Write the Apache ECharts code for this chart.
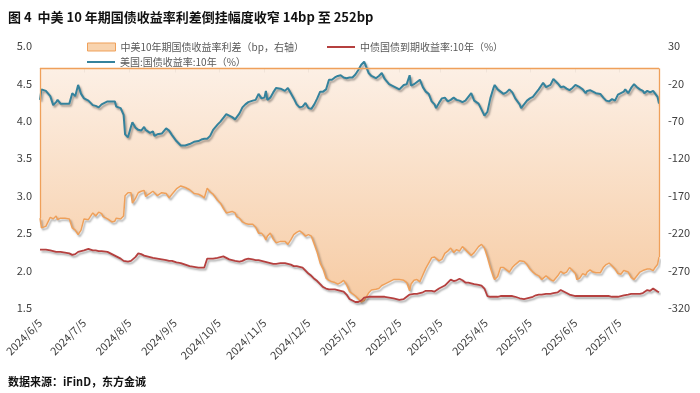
<!DOCTYPE html>
<html>
<head>
<meta charset="utf-8">
<script src="https://cdn.jsdelivr.net/npm/echarts@6/dist/echarts.min.js"></script>
<style>
html,body{margin:0;padding:0;background:#fff;}
#chart{width:700px;height:393px;}
</style>
</head>
<body>
<div id="chart"></div>
<script>
// ---- data ----
const titleText = '图 4  中美 10 年期国债收益率利差倒挂幅度收窄 14bp 至 252bp';
const sourceText = '数据来源：iFinD，东方金诚';
const spreadName = '中美10年期国债收益率利差（bp，右轴）';
const cnName = '中债国债到期收益率:10年（%）';
const usName = '美国:国债收益率:10年（%）';

const dates = [
'2024-06-05','2024-06-06','2024-06-09','2024-06-12','2024-06-14','2024-06-16','2024-06-17','2024-06-19','2024-06-22','2024-06-25',
'2024-06-27','2024-06-29','2024-07-01','2024-07-03','2024-07-05','2024-07-08','2024-07-11','2024-07-13','2024-07-15','2024-07-17',
'2024-07-18','2024-07-21','2024-07-24','2024-07-26','2024-07-27','2024-07-30','2024-08-01','2024-08-02','2024-08-04','2024-08-06',
'2024-08-07','2024-08-09','2024-08-11','2024-08-13','2024-08-15','2024-08-16','2024-08-19','2024-08-21','2024-08-22','2024-08-24',
'2024-08-27','2024-08-30','2024-09-01','2024-09-03','2024-09-06','2024-09-09','2024-09-10','2024-09-12','2024-09-15','2024-09-18',
'2024-09-21','2024-09-23','2024-09-25','2024-09-27','2024-09-29','2024-10-01','2024-10-04','2024-10-06','2024-10-08','2024-10-10',
'2024-10-12','2024-10-14','2024-10-16','2024-10-17','2024-10-19','2024-10-21','2024-10-23','2024-10-25','2024-10-28','2024-10-30',
'2024-11-01','2024-11-03','2024-11-05','2024-11-06','2024-11-07','2024-11-09','2024-11-11','2024-11-13','2024-11-16','2024-11-19',
'2024-11-21','2024-11-23','2024-11-25','2024-11-27','2024-11-29','2024-12-01','2024-12-03','2024-12-05','2024-12-07','2024-12-09',
'2024-12-11','2024-12-13','2024-12-15','2024-12-17','2024-12-19','2024-12-21','2024-12-23','2024-12-25','2024-12-27','2024-12-29',
'2024-12-31','2025-01-02','2025-01-04','2025-01-06','2025-01-08','2025-01-10','2025-01-12','2025-01-13','2025-01-15','2025-01-17',
'2025-01-20','2025-01-22','2025-01-24','2025-01-26','2025-01-29','2025-02-01','2025-02-03','2025-02-05','2025-02-08','2025-02-10',
'2025-02-12','2025-02-13','2025-02-15','2025-02-17','2025-02-19','2025-02-21','2025-02-23','2025-02-25','2025-02-27','2025-03-01',
'2025-03-02','2025-03-04','2025-03-06','2025-03-08','2025-03-10','2025-03-12','2025-03-14','2025-03-16','2025-03-18','2025-03-20',
'2025-03-22','2025-03-24','2025-03-26','2025-03-27','2025-03-28','2025-03-31','2025-04-02','2025-04-04','2025-04-06','2025-04-08',
'2025-04-10','2025-04-11','2025-04-13','2025-04-15','2025-04-17','2025-04-19','2025-04-21','2025-04-23','2025-04-25','2025-04-28',
'2025-04-29','2025-05-01','2025-05-03','2025-05-05','2025-05-07','2025-05-09','2025-05-11','2025-05-13','2025-05-14','2025-05-16',
'2025-05-19','2025-05-21','2025-05-22','2025-05-24','2025-05-26','2025-05-28','2025-05-30','2025-06-01','2025-06-03','2025-06-05',
'2025-06-06','2025-06-08','2025-06-10','2025-06-12','2025-06-13','2025-06-15','2025-06-17','2025-06-19','2025-06-22','2025-06-24',
'2025-06-26','2025-06-28','2025-06-30','2025-07-02','2025-07-04','2025-07-06','2025-07-08','2025-07-09','2025-07-11','2025-07-13',
'2025-07-15','2025-07-17','2025-07-19','2025-07-21','2025-07-22','2025-07-24','2025-07-26','2025-07-28','2025-07-29','2025-07-31',
'2025-08-01'
];

const usYield = [
4.28,4.42,4.40,4.33,4.21,4.25,4.28,4.23,4.23,4.23,
4.37,4.33,4.48,4.36,4.30,4.27,4.21,4.20,4.18,4.22,
4.24,4.26,4.26,4.26,4.19,4.17,4.08,3.82,3.78,3.92,
3.98,3.91,3.88,3.87,3.92,3.88,3.84,3.86,3.80,3.82,
3.83,3.90,3.87,3.81,3.73,3.67,3.65,3.67,3.69,3.72,
3.73,3.75,3.76,3.76,3.80,3.88,3.95,3.99,4.04,4.09,
4.07,4.05,4.02,4.04,4.10,4.18,4.22,4.25,4.27,4.28,
4.36,4.30,4.31,4.40,4.28,4.31,4.38,4.44,4.43,4.40,
4.44,4.37,4.30,4.22,4.18,4.19,4.24,4.17,4.16,4.22,
4.30,4.39,4.39,4.42,4.55,4.55,4.58,4.60,4.61,4.58,
4.57,4.58,4.58,4.62,4.68,4.75,4.79,4.78,4.64,4.60,
4.57,4.60,4.64,4.56,4.49,4.46,4.44,4.42,4.48,4.49,
4.61,4.47,4.49,4.52,4.55,4.45,4.39,4.36,4.26,4.22,
4.17,4.24,4.30,4.31,4.26,4.28,4.31,4.28,4.27,4.25,
4.27,4.32,4.37,4.38,4.27,4.23,4.15,4.07,4.12,4.30,
4.43,4.48,4.42,4.39,4.36,4.38,4.42,4.38,4.30,4.22,
4.17,4.22,4.27,4.30,4.32,4.37,4.42,4.48,4.51,4.45,
4.48,4.56,4.57,4.50,4.45,4.46,4.43,4.41,4.44,4.48,
4.50,4.45,4.42,4.37,4.40,4.41,4.39,4.37,4.36,4.31,
4.27,4.26,4.29,4.27,4.35,4.37,4.39,4.42,4.37,4.44,
4.49,4.45,4.42,4.40,4.37,4.40,4.38,4.40,4.39,4.32,
4.23
];

const cnYield = [
2.28,2.28,2.28,2.27,2.26,2.25,2.25,2.25,2.24,2.23,
2.21,2.22,2.25,2.26,2.27,2.29,2.27,2.27,2.26,2.26,
2.26,2.25,2.22,2.20,2.19,2.16,2.13,2.12,2.12,2.13,
2.14,2.18,2.23,2.22,2.20,2.19,2.18,2.17,2.17,2.16,
2.15,2.14,2.13,2.13,2.11,2.10,2.09,2.08,2.06,2.05,
2.04,2.04,2.04,2.16,2.16,2.16,2.17,2.18,2.19,2.17,
2.15,2.14,2.13,2.13,2.12,2.13,2.15,2.16,2.15,2.14,
2.14,2.13,2.12,2.11,2.11,2.10,2.09,2.09,2.10,2.10,
2.09,2.08,2.06,2.06,2.05,2.04,2.00,1.96,1.93,1.89,
1.86,1.82,1.78,1.76,1.75,1.75,1.75,1.74,1.73,1.72,
1.68,1.62,1.60,1.58,1.58,1.60,1.64,1.65,1.65,1.65,
1.65,1.65,1.65,1.65,1.64,1.63,1.62,1.61,1.62,1.65,
1.68,1.68,1.69,1.69,1.70,1.71,1.73,1.73,1.73,1.72,
1.72,1.76,1.78,1.80,1.84,1.88,1.86,1.87,1.89,1.87,
1.84,1.84,1.83,1.83,1.82,1.81,1.80,1.76,1.66,1.65,
1.65,1.65,1.65,1.66,1.66,1.66,1.66,1.66,1.65,1.63,
1.62,1.62,1.63,1.64,1.65,1.67,1.68,1.68,1.68,1.69,
1.69,1.70,1.70,1.71,1.74,1.72,1.70,1.68,1.67,1.66,
1.66,1.66,1.66,1.66,1.66,1.66,1.66,1.66,1.66,1.66,
1.66,1.66,1.65,1.65,1.65,1.66,1.67,1.68,1.68,1.69,
1.69,1.69,1.69,1.70,1.72,1.74,1.73,1.76,1.74,1.72,
1.71
];

const spreadBp = [
-200,-213,-211,-199,-201,-197,-202,-200,-200,-201,
-213,-216,-222,-216,-201,-202,-193,-197,-192,-194,
-198,-201,-205,-204,-200,-201,-197,-170,-166,-166,
-180,-174,-166,-164,-163,-171,-167,-164,-163,-170,
-166,-167,-173,-168,-161,-157,-155,-159,-162,-167,
-168,-170,-173,-160,-165,-168,-176,-180,-187,-193,
-192,-191,-193,-198,-200,-205,-207,-208,-208,-212,
-220,-220,-225,-229,-224,-220,-228,-233,-231,-231,
-235,-229,-222,-219,-217,-220,-224,-222,-224,-235,
-246,-260,-268,-280,-283,-285,-286,-288,-286,-283,
-289,-298,-301,-304,-308,-312,-310,-308,-300,-296,
-295,-294,-290,-288,-285,-282,-282,-282,-283,-286,
-297,-288,-283,-282,-285,-276,-267,-260,-253,-252,
-251,-257,-255,-247,-244,-240,-246,-242,-244,-238,
-242,-246,-250,-251,-246,-238,-235,-240,-252,-266,
-278,-282,-278,-266,-266,-269,-272,-266,-262,-257,
-255,-258,-262,-268,-272,-275,-277,-282,-284,-277,
-282,-284,-282,-277,-271,-274,-272,-266,-270,-274,
-282,-280,-274,-276,-272,-269,-272,-273,-273,-266,
-262,-260,-264,-268,-274,-275,-270,-268,-272,-279,
-282,-277,-272,-270,-268,-268,-268,-270,-267,-262,
-252
];

const xTickDates = ['2024-06-05','2024-07-05','2024-08-05','2024-09-05','2024-10-05','2024-11-05','2024-12-05',
  '2025-01-05','2025-02-05','2025-03-05','2025-04-05','2025-05-05','2025-06-05','2025-07-05'];
const leftTicks = [1.5,2.0,2.5,3.0,3.5,4.0,4.5,5.0];
const rightTicks = [-320,-270,-220,-170,-120,-70,-20,30];

// ---- helpers ----
function toTime(s){ const p = s.split('-'); return new Date(+p[0], +p[1]-1, +p[2]).getTime(); }
const xTickTimes = xTickDates.map(toTime);
const pairs = arr => dates.map((d,i)=>[toTime(d), arr[i]]);

const FONT = "'Noto Sans CJK SC', 'Noto Sans', sans-serif";
const orangeLine = '#efa05a';
const redLine = '#b5403f';
const blueLine = '#34829c';
const shadow = {shadowColor:'rgba(0,0,0,0.35)', shadowBlur:2, shadowOffsetX:1.5, shadowOffsetY:2};

const chart = echarts.init(document.getElementById('chart'), null, {renderer:'canvas'});
const last = dates.length - 1;

chart.setOption({
  animation:false,
  backgroundColor:'#ffffff',
  textStyle:{fontFamily:FONT},
  title:[
    {text:titleText, left:3, top:6, textStyle:{fontFamily:FONT, fontSize:13, fontWeight:'bold', color:'#111'}},
    {text:sourceText, left:3, top:371, textStyle:{fontFamily:FONT, fontSize:11, fontWeight:'bold', color:'#111'}}
  ],
  legend:[
    {left:82, top:37, itemWidth:28, itemHeight:8, selectedMode:false,
     textStyle:{fontFamily:FONT, fontSize:10, color:'#595959'},
     data:[{name:spreadName, icon:'rect', itemStyle:{color:'#f8d3ae', borderColor:orangeLine, borderWidth:1}}]},
    {left:322, top:37, itemWidth:28, itemHeight:2, selectedMode:false,
     textStyle:{fontFamily:FONT, fontSize:10, color:'#595959'},
     data:[{name:cnName, icon:'rect', itemStyle:{color:redLine}}]},
    {left:82, top:52, itemWidth:28, itemHeight:2, selectedMode:false,
     textStyle:{fontFamily:FONT, fontSize:10, color:'#595959'},
     data:[{name:usName, icon:'rect', itemStyle:{color:blueLine}}]}
  ],
  grid:{left:40, right:41, top:46, bottom:85, containLabel:false},
  xAxis:{
    type:'value',
    min:toTime(dates[0]), max:toTime(dates[last]),
    axisLine:{show:true, lineStyle:{color:'#d9d9d9', width:1}},
    axisTick:{show:true, customValues:xTickTimes, length:4, lineStyle:{color:'#d9d9d9'}},
    splitLine:{show:false},
    axisLabel:{
      customValues:xTickTimes, rotate:45, margin:13, fontSize:11, color:'#404040', fontFamily:FONT,
      hideOverlap:false, showMinLabel:true, showMaxLabel:true,
      formatter:function(v){ const d = new Date(v); return d.getFullYear()+'/'+(d.getMonth()+1)+'/'+d.getDate(); }
    }
  },
  yAxis:[
    {type:'value', min:1.5, max:5.0, interval:0.5,
     axisLine:{show:false}, axisTick:{show:false}, splitLine:{show:false},
     axisLabel:{customValues:leftTicks, margin:8, fontSize:11, color:'#404040', fontFamily:FONT,
       formatter:v=>Number(v).toFixed(1)}},
    {type:'value', min:-320, max:30, position:'right',
     axisLine:{show:false}, axisTick:{show:false}, splitLine:{show:false},
     axisLabel:{customValues:rightTicks, margin:9, fontSize:11, color:'#404040', fontFamily:FONT}}
  ],
  series:[
    {name:spreadName, type:'line', yAxisIndex:1, showSymbol:false, symbol:'none',
     data:pairs(spreadBp),
     lineStyle:Object.assign({color:orangeLine, width:1.5}, shadow),
     itemStyle:{color:orangeLine},
     areaStyle:{origin:0, color:new echarts.graphic.LinearGradient(0,0,0,1,[
        {offset:0, color:'#fbe9da'},{offset:1, color:'#f3b57c'}])},
     markLine:{silent:true, symbol:'none', label:{show:false},
       lineStyle:{color:orangeLine, width:1.3, type:'solid'},
       emphasis:{disabled:true},
       data:[
         {yAxis:0},
         [{coord:[toTime(dates[0]),0]},{coord:[toTime(dates[0]),spreadBp[0]]}],
         [{coord:[toTime(dates[last]),0]},{coord:[toTime(dates[last]),spreadBp[last]]}]
       ]}
    },
    {name:cnName, type:'line', yAxisIndex:0, showSymbol:false, symbol:'none',
     data:pairs(cnYield),
     lineStyle:Object.assign({color:redLine, width:1.8}, shadow),
     itemStyle:{color:redLine}},
    {name:usName, type:'line', yAxisIndex:0, showSymbol:false, symbol:'none',
     data:pairs(usYield),
     lineStyle:Object.assign({color:blueLine, width:2}, shadow),
     itemStyle:{color:blueLine}}
  ]
});
</script>
</body>
</html>
